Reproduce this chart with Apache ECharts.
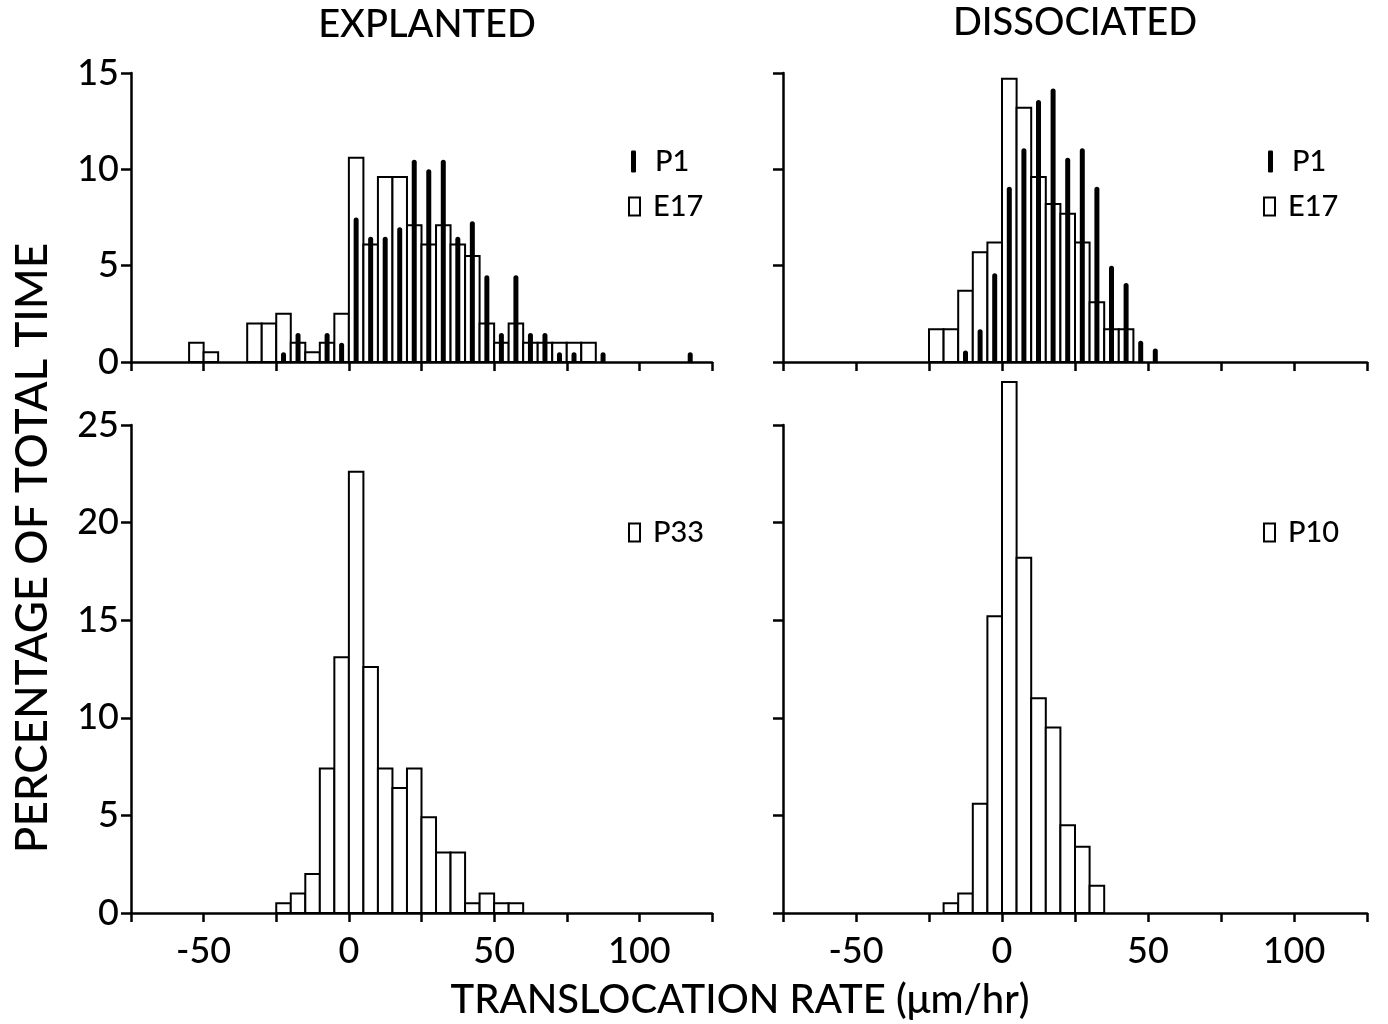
<!DOCTYPE html>
<html>
<head>
<meta charset="utf-8">
<title>Translocation rate</title>
<script src="https://cdn.jsdelivr.net/npm/echarts@6/dist/echarts.min.js"></script>
<style>
html, body { margin: 0; background: #fff; }
#chart { width: 1388px; height: 1024px; }
</style>
</head>
<body>
<div id="chart"></div>
<script>
const FONT = 'Lato';
const WEIGHT = 500;
const BIN = 5; // bin width, um/hr

// explanted, top: E17 (open) and P1 (solid)
const explE17Bins = [-55, -50, -45, -40, -35, -30, -25, -20, -15, -10, -5, 0, 5, 10, 15, 20, 25, 30, 35, 40, 45, 50, 55, 60, 65, 70, 75, 80];
const explE17 = [1.0, 0.5, 0, 0, 2.0, 2.0, 2.5, 1.0, 0.5, 1.0, 2.5, 10.6, 6.1, 9.6, 9.6, 7.1, 6.1, 7.1, 6.1, 5.5, 2.0, 1.0, 2.0, 1.0, 1.0, 1.0, 1.0, 1.0];
const explP1Bins = [-25, -20, -15, -10, -5, 0, 5, 10, 15, 20, 25, 30, 35, 40, 45, 50, 55, 60, 65, 70, 75, 80, 85, 90, 95, 100, 105, 110, 115];
const explP1 = [0.5, 1.5, 0, 1.5, 1.0, 7.5, 6.5, 6.5, 7.0, 10.5, 10.0, 10.5, 6.5, 7.3, 4.5, 1.5, 4.5, 1.5, 1.5, 0.5, 0.5, 0, 0.5, 0, 0, 0, 0, 0, 0.5];

// dissociated, top
const dissE17Bins = [-25, -20, -15, -10, -5, 0, 5, 10, 15, 20, 25, 30, 35, 40];
const dissE17 = [1.7, 1.7, 3.7, 5.7, 6.2, 14.7, 13.2, 9.6, 8.2, 7.7, 6.2, 3.1, 1.7, 1.7];
const dissP1Bins = [-15, -10, -5, 0, 5, 10, 15, 20, 25, 30, 35, 40, 45, 50];
const dissP1 = [0.6, 1.7, 4.6, 9.1, 11.1, 13.6, 14.2, 10.6, 11.1, 9.1, 5.0, 4.1, 1.1, 0.7];

// bottom panels
const p33Bins = [-25, -20, -15, -10, -5, 0, 5, 10, 15, 20, 25, 30, 35, 40, 45, 50, 55];
const p33 = [0.5, 1.0, 2.0, 7.4, 13.1, 22.6, 12.6, 7.4, 6.4, 7.4, 4.9, 3.1, 3.1, 0.5, 1.0, 0.5, 0.5];
const p10Bins = [-20, -15, -10, -5, 0, 5, 10, 15, 20, 25, 30];
const p10 = [0.5, 1.0, 5.6, 15.2, 27.2, 18.2, 11.0, 9.5, 4.5, 3.4, 1.4];

function pairs(bins, vals) {
  return bins.map((b, i) => [b, vals[i]]);
}

// open histogram bar spanning the whole bin
function openBar(params, api) {
  const v = api.value(1);
  if (!v) return null;
  const a = api.coord([api.value(0), v]);
  const b = api.coord([api.value(0) + BIN, 0]);
  return {
    type: 'rect',
    shape: { x: a[0], y: a[1], width: b[0] - a[0], height: b[1] - a[1] },
    style: { fill: '#fff', stroke: '#000', lineWidth: 2 }
  };
}

// thin solid bar at the bin centre
function solidBar(params, api) {
  const v = api.value(1);
  if (!v) return null;
  const a = api.coord([api.value(0) + BIN / 2, v]);
  const b = api.coord([api.value(0) + BIN / 2, 0]);
  const w = 5;
  return {
    type: 'rect',
    shape: { x: a[0] - w / 2, y: a[1], width: w, height: b[1] - a[1], r: [2.5, 2.5, 0, 0] },
    style: { fill: '#000' }
  };
}

const axisLineStyle = { color: '#000', width: 2.5 };

function xAxis(gi, showLabels) {
  return {
    type: 'value', gridIndex: gi, min: -75, max: 125, interval: 25,
    axisLine: { onZero: false, lineStyle: axisLineStyle },
    axisTick: { length: 9, lineStyle: axisLineStyle },
    splitLine: { show: false },
    axisLabel: {
      show: showLabels, margin: 20, color: '#000', fontFamily: FONT, fontWeight: WEIGHT, fontSize: 36,
      formatter: v => (v % 50 === 0 ? String(v) : '')
    }
  };
}

function yAxis(gi, max, showLabels) {
  return {
    type: 'value', gridIndex: gi, min: 0, max: max, interval: 5,
    axisLine: { show: true, onZero: false, lineStyle: axisLineStyle },
    axisTick: { show: true, length: 10, lineStyle: axisLineStyle },
    splitLine: { show: false },
    axisLabel: { show: showLabels, margin: 12, color: '#000', fontFamily: FONT, fontWeight: WEIGHT, fontSize: 36 }
  };
}

function legendItem(name, left, top, open) {
  return {
    left: left, top: top, selectedMode: false,
    itemWidth: open ? 11 : 5, itemHeight: open ? 18 : 22,
    textStyle: { fontFamily: FONT, fontWeight: WEIGHT, fontSize: 29, color: '#000', padding: [0, 0, 0, open ? 8 : 14] },
    data: [{
      name: name,
      icon: open ? 'rect' : 'roundRect',
      itemStyle: open ? { color: '#fff', borderColor: '#000', borderWidth: 2 } : { color: '#000', borderWidth: 0 }
    }]
  };
}

const titleFont = WEIGHT + ' 38px ' + FONT;

const option = {
  animation: false,
  grid: [
    { left: 131, top: 73, width: 581, height: 289 },
    { left: 783, top: 73, width: 584, height: 289 },
    { left: 131, top: 425, width: 581, height: 488 },
    { left: 783, top: 425, width: 584, height: 488 }
  ],
  xAxis: [xAxis(0, false), xAxis(1, false), xAxis(2, true), xAxis(3, true)],
  yAxis: [yAxis(0, 15, true), yAxis(1, 15, false), yAxis(2, 25, true), yAxis(3, 25, false)],
  legend: [
    legendItem('P1', 626, 142, false),
    legendItem('E17', 623, 187, true),
    legendItem('P1', 1263, 142, false),
    legendItem('E17', 1258, 187, true),
    legendItem('P33', 623, 513, true),
    legendItem('P10', 1258, 513, true)
  ],
  graphic: [
    { type: 'text', x: 427, y: 25, style: { text: 'EXPLANTED', font: titleFont, fill: '#000', align: 'center', verticalAlign: 'middle' } },
    { type: 'text', x: 1075, y: 23, style: { text: 'DISSOCIATED', font: titleFont, fill: '#000', align: 'center', verticalAlign: 'middle' } },
    { type: 'text', x: 740, y: 1000, style: { text: 'TRANSLOCATION RATE (μm/hr)', font: WEIGHT + ' 40px ' + FONT, fill: '#000', align: 'center', verticalAlign: 'middle' } },
    { type: 'text', x: 33, y: 548, rotation: Math.PI / 2, style: { text: 'PERCENTAGE OF TOTAL TIME', font: WEIGHT + ' 44px ' + FONT, fill: '#000', align: 'center', verticalAlign: 'middle' } }
  ],
  series: [
    { name: 'E17', type: 'custom', xAxisIndex: 0, yAxisIndex: 0, renderItem: openBar, encode: { x: 0, y: 1 },
      itemStyle: { color: '#fff', borderColor: '#000' }, data: pairs(explE17Bins, explE17) },
    { name: 'P1', type: 'custom', xAxisIndex: 0, yAxisIndex: 0, renderItem: solidBar, encode: { x: 0, y: 1 },
      itemStyle: { color: '#000' }, data: pairs(explP1Bins, explP1) },
    { name: 'E17', type: 'custom', xAxisIndex: 1, yAxisIndex: 1, renderItem: openBar, encode: { x: 0, y: 1 },
      itemStyle: { color: '#fff', borderColor: '#000' }, data: pairs(dissE17Bins, dissE17) },
    { name: 'P1', type: 'custom', xAxisIndex: 1, yAxisIndex: 1, renderItem: solidBar, encode: { x: 0, y: 1 },
      itemStyle: { color: '#000' }, data: pairs(dissP1Bins, dissP1) },
    { name: 'P33', type: 'custom', xAxisIndex: 2, yAxisIndex: 2, renderItem: openBar, encode: { x: 0, y: 1 },
      itemStyle: { color: '#fff', borderColor: '#000' }, data: pairs(p33Bins, p33) },
    { name: 'P10', type: 'custom', xAxisIndex: 3, yAxisIndex: 3, renderItem: openBar, encode: { x: 0, y: 1 },
      itemStyle: { color: '#fff', borderColor: '#000' }, data: pairs(p10Bins, p10) }
  ]
};

const myChart = echarts.init(document.getElementById('chart'));
myChart.setOption(option);
</script>
</body>
</html>
